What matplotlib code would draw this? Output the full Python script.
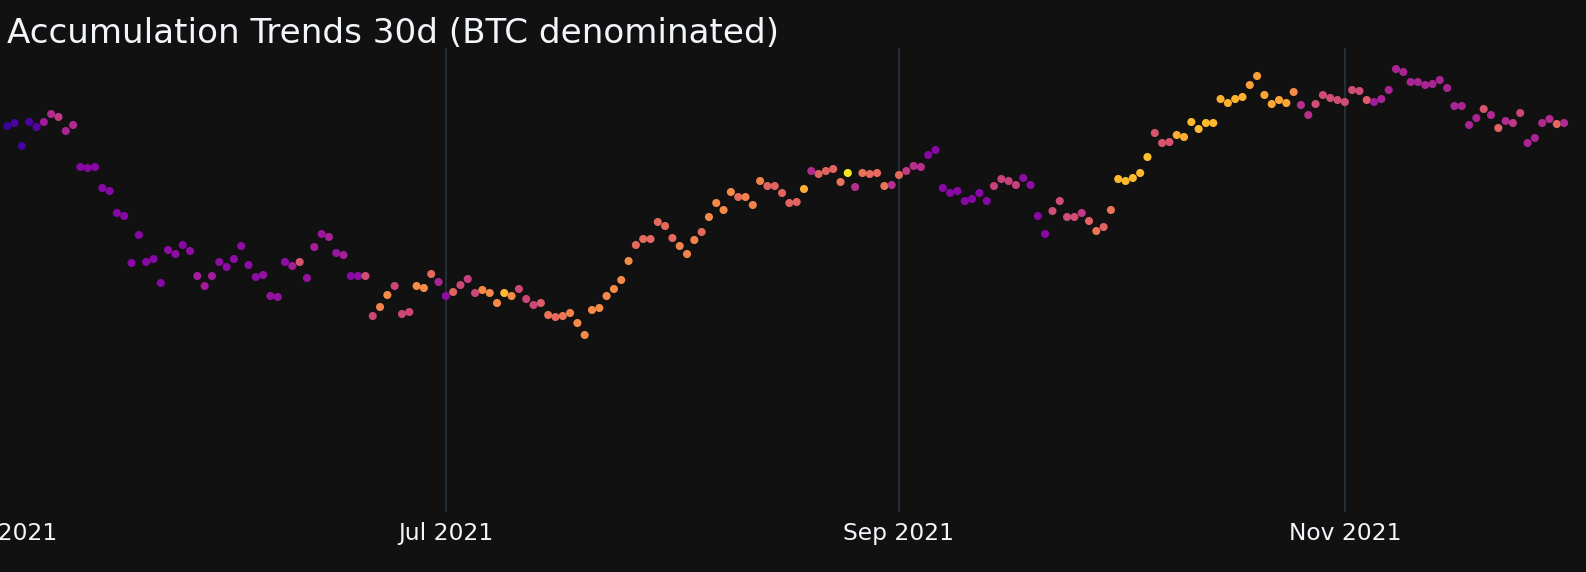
import matplotlib
matplotlib.use("Agg")
import matplotlib.pyplot as plt
import matplotlib.dates as mdates
import pandas as pd

# daily values, first day 2021-05-02
start_date = "2021-05-02"
values = [
    38.6, 38.9, 36.6, 39.0, 38.5, 39.0, 39.8, 39.5, 38.1, 38.7,
    34.5, 34.4, 34.5, 32.4, 32.1, 29.9, 29.6, 24.9, 27.7, 25.0,
    25.3, 22.9, 26.2, 25.8, 26.7, 26.1, 23.6, 22.6, 23.6, 25.0,
    24.5, 25.3, 26.6, 24.7, 23.5, 23.7, 21.6, 21.5, 25.0, 24.6,
    25.0, 23.4, 26.5, 27.8, 27.5, 25.9, 25.7, 23.6, 23.6, 23.6,
    19.6, 20.5, 21.7, 22.6, 19.8, 20.0, 22.6, 22.4, 23.8, 23.0,
    21.6, 22.0, 22.7, 23.3, 21.9, 22.2, 21.9, 20.9, 21.9, 21.6,
    22.3, 21.3, 20.7, 20.9, 19.7, 19.5, 19.6, 19.9, 18.9, 17.7,
    20.2, 20.4, 21.6, 22.3, 23.2, 25.1, 26.7, 27.3, 27.3, 29.0,
    28.6, 27.4, 26.6, 25.8, 27.2, 28.0, 29.5, 30.9, 30.2, 32.0,
    31.5, 31.5, 30.7, 33.1, 32.6, 32.6, 31.9, 30.9, 31.0, 32.3,
    34.1, 33.8, 34.1, 34.3, 33.0, 33.9, 32.5, 33.9, 33.8, 33.9,
    32.6, 32.7, 33.7, 34.1, 34.6, 34.5, 35.7, 36.2, 32.4, 31.9,
    32.1, 31.1, 31.3, 31.9, 31.1, 32.6, 33.3, 33.1, 32.7, 33.4,
    32.7, 29.6, 27.8, 30.1, 31.1, 29.5, 29.5, 29.9, 29.1, 28.1,
    28.5, 30.2, 33.3, 33.1, 33.4, 33.9, 35.5, 37.9, 36.9, 37.0,
    37.7, 37.5, 39.0, 38.3, 38.9, 38.9, 41.3, 40.9, 41.3, 41.5,
    42.7, 43.6, 41.7, 40.8, 41.2, 40.9, 42.0, 40.7, 39.7, 40.8,
    41.7, 41.4, 41.2, 41.0, 42.2, 42.1, 41.2, 41.0, 41.3, 42.2,
    44.3, 44.0, 43.0, 43.0, 42.7, 42.8, 43.2, 42.4, 40.6, 40.6,
    38.7, 39.4, 40.3, 39.7, 38.4, 39.1, 38.9, 39.9, 36.9, 37.4,
    38.9, 39.3, 38.8, 38.9,
]

# accumulation trend score (marker colour)
scores = [
    0.08, 0.12, 0.10, 0.12, 0.16, 0.35, 0.40, 0.45, 0.38, 0.40,
    0.28, 0.28, 0.28, 0.28, 0.28, 0.28, 0.28, 0.28, 0.28, 0.28,
    0.28, 0.28, 0.30, 0.30, 0.28, 0.30, 0.35, 0.35, 0.35, 0.30,
    0.30, 0.30, 0.30, 0.30, 0.30, 0.32, 0.32, 0.32, 0.30, 0.35,
    0.55, 0.32, 0.36, 0.33, 0.37, 0.33, 0.36, 0.28, 0.30, 0.52,
    0.50, 0.70, 0.72, 0.50, 0.50, 0.50, 0.72, 0.72, 0.62, 0.38,
    0.30, 0.60, 0.50, 0.48, 0.50, 0.72, 0.72, 0.72, 0.85, 0.72,
    0.50, 0.50, 0.50, 0.58, 0.65, 0.62, 0.66, 0.70, 0.72, 0.72,
    0.72, 0.72, 0.72, 0.72, 0.72, 0.72, 0.62, 0.62, 0.62, 0.62,
    0.62, 0.62, 0.70, 0.70, 0.70, 0.62, 0.72, 0.72, 0.72, 0.72,
    0.62, 0.70, 0.70, 0.70, 0.60, 0.60, 0.60, 0.60, 0.60, 0.82,
    0.40, 0.60, 0.60, 0.60, 0.65, 0.95, 0.42, 0.65, 0.62, 0.62,
    0.66, 0.42, 0.62, 0.45, 0.42, 0.42, 0.28, 0.28, 0.28, 0.28,
    0.28, 0.28, 0.28, 0.28, 0.28, 0.48, 0.48, 0.48, 0.48, 0.30,
    0.30, 0.28, 0.28, 0.52, 0.52, 0.52, 0.52, 0.45, 0.60, 0.66,
    0.60, 0.66, 0.85, 0.85, 0.85, 0.85, 0.87, 0.55, 0.55, 0.55,
    0.82, 0.82, 0.85, 0.85, 0.85, 0.85, 0.83, 0.83, 0.83, 0.83,
    0.78, 0.78, 0.80, 0.80, 0.80, 0.80, 0.72, 0.42, 0.42, 0.52,
    0.52, 0.52, 0.52, 0.52, 0.52, 0.52, 0.58, 0.35, 0.38, 0.38,
    0.38, 0.38, 0.38, 0.38, 0.38, 0.38, 0.38, 0.38, 0.38, 0.38,
    0.38, 0.38, 0.55, 0.40, 0.60, 0.40, 0.45, 0.50, 0.38, 0.38,
    0.40, 0.40, 0.62, 0.40,
]

tick_dates = ["2021-05-01", "2021-07-01", "2021-09-01", "2021-11-01"]
title = "Accumulation Trends 30d (BTC denominated)"

dates = pd.date_range(start_date, periods=len(values), freq="D")

bg = "#111111"
fig = plt.figure(figsize=(15.86, 5.72), dpi=100, facecolor=bg)
ax = fig.add_axes([0, 60 / 572, 1, 464 / 572], facecolor=bg)

ax.scatter(dates, values, c=scores, cmap="plasma", vmin=0, vmax=1,
           s=34, linewidths=0, zorder=3)

x0 = pd.Timestamp(start_date) - pd.Timedelta(hours=12)
x1 = pd.Timestamp(start_date) + pd.Timedelta(days=216)
ax.set_xlim(x0, x1)
ax.set_ylim(0, 46.4)

ticks = pd.to_datetime(tick_dates)
ax.set_xticks(ticks)
ax.xaxis.set_major_formatter(mdates.DateFormatter("%b %Y"))
ax.tick_params(axis="x", length=0, pad=7, labelsize=16.8, colors="#f2f5fa")
ax.set_yticks([])
# vertical grid lines only where the month falls inside the view
for t in ticks:
    if x0 < t < x1:
        ax.axvline(t, color="#283442", linewidth=1.2, zorder=0)
for s in ax.spines.values():
    s.set_visible(False)

fig.text(7 / 1586, 1 - 43 / 572, title, color="#f2f5fa", fontsize=24.6,
         ha="left", va="baseline")

fig.savefig("out.png", dpi=100, facecolor=bg)
